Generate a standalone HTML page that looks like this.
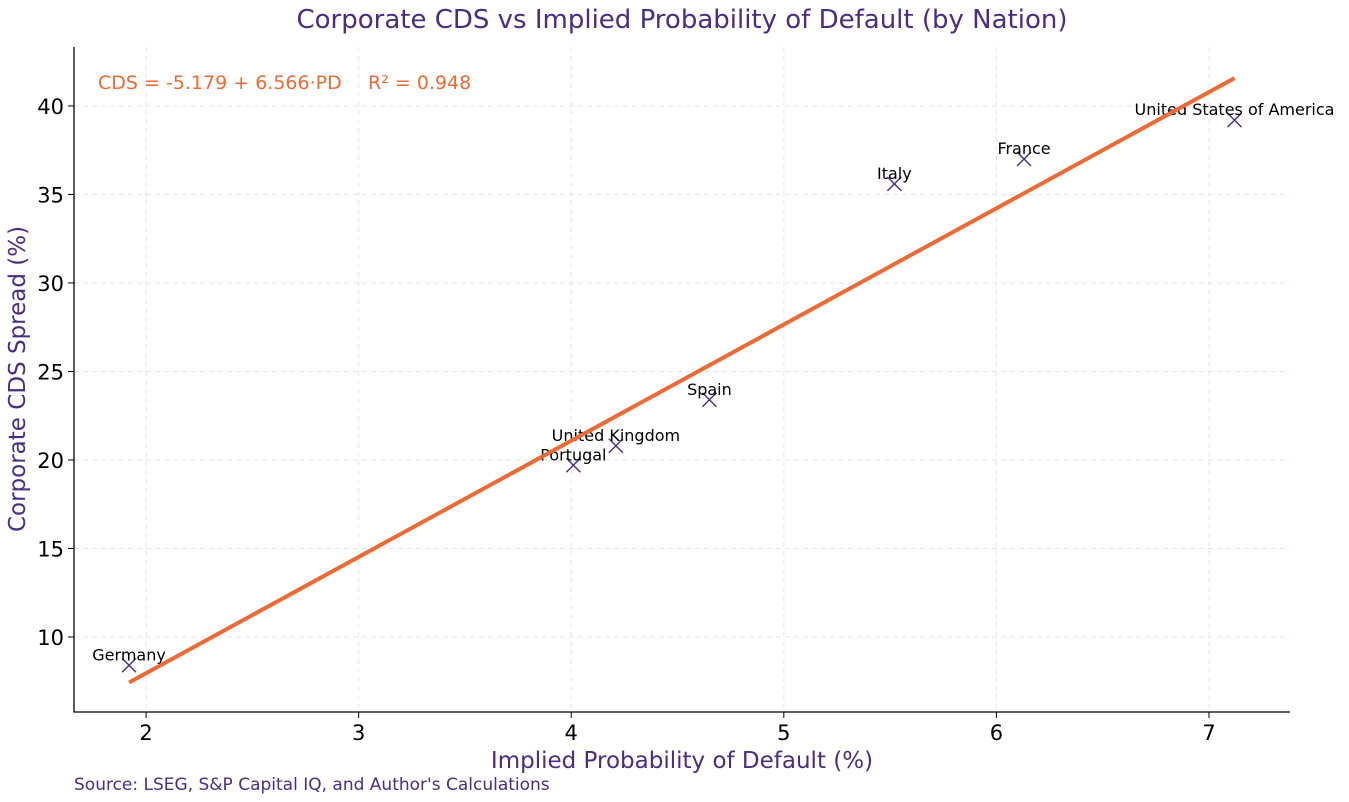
<!DOCTYPE html>
<html><head><meta charset="utf-8"><style>
body{margin:0;background:#fff;}
svg{display:block;font-family:"DejaVu Sans","Liberation Sans",sans-serif;}
</style></head><body>
<svg id="chart" width="1349" height="802" viewBox="0 0 1349 802">
<text x="682" y="28" text-anchor="middle" font-size="26" fill="#4b2c7f">Corporate CDS vs Implied Probability of Default (by Nation)</text>
<g id="grid"></g>
<g id="axes"></g>
<g id="marks"></g>
<text x="98" y="89" font-size="19" fill="#ee6a35">CDS = -5.179 + 6.566·PD</text>
<text x="368" y="89" font-size="19" fill="#ee6a35">R² = 0.948</text>
<text x="682" y="768" text-anchor="middle" font-size="23" fill="#4b2c7f">Implied Probability of Default (%)</text>
<text transform="translate(25,379) rotate(-90)" text-anchor="middle" font-size="23" fill="#4b2c7f">Corporate CDS Spread (%)</text>
<text x="74" y="790" font-size="17" fill="#4b2c7f">Source: LSEG, S&amp;P Capital IQ, and Author's Calculations</text>
</svg>
<script>
const countries=["Germany","Portugal","United Kingdom","Spain","Italy","France","United States of America"];
const pdValues=[1.92,4.01,4.21,4.65,5.52,6.13,7.12];
const cdsValues=[8.4,19.7,20.8,23.4,35.6,37.0,39.2];
const xTicks=[2,3,4,5,6,7];
const yTicks=[10,15,20,25,30,35,40];
const fitIntercept=-5.179, fitSlope=6.566;
const fitRange=[1.92,7.12];
const NS="http://www.w3.org/2000/svg";
const X0=74,X1=1290,Y0=712,Y1=47;
const xMin=1.661,xMax=7.381,yMin=5.76,yMax=43.33;
const sx=v=>X0+(v-xMin)/(xMax-xMin)*(X1-X0);
const sy=v=>Y0-(v-yMin)/(yMax-yMin)*(Y0-Y1);
function mk(tag,attrs,parent){const e=document.createElementNS(NS,tag);for(const k in attrs)e.setAttribute(k,attrs[k]);parent.appendChild(e);return e;}
const grid=document.getElementById('grid'),axes=document.getElementById('axes'),marks=document.getElementById('marks');
xTicks.forEach(t=>{
 const g=mk('line',{x1:sx(t),x2:sx(t),y1:Y1,y2:Y0,stroke:'#e6e6e6','stroke-dasharray':'5,4'},grid);
 
 
 const tk=mk('line',{x1:sx(t),x2:sx(t),y1:Y0,y2:Y0+6,stroke:'#000'},axes);
 
 
 const tl=mk('text',{x:sx(t),y:Y0+28,'text-anchor':'middle','font-size':'21',fill:'#000'},axes);
 tl.textContent=t;
 
 
});
yTicks.forEach(t=>{
 const g=mk('line',{x1:X0,x2:X1,y1:sy(t),y2:sy(t),stroke:'#e6e6e6','stroke-dasharray':'5,4'},grid);
 
 
 const tk=mk('line',{x1:X0-6,x2:X0,y1:sy(t),y2:sy(t),stroke:'#000'},axes);
 
 
 const tl=mk('text',{x:X0-10,y:sy(t)+8,'text-anchor':'end','font-size':'21',fill:'#000'},axes);
 tl.textContent=t;
 
 
});
const ax=mk('path',{d:`M${X0},${Y1}V${Y0}H${X1}`,fill:'none',stroke:'#000','stroke-width':1.3},axes);


countries.forEach((c,i)=>{
 const x=sx(pdValues[i]),y=sy(cdsValues[i]);
 const m=mk('path',{d:`M${x-7},${y-7}L${x+7},${y+7}M${x-7},${y+7}L${x+7},${y-7}`,stroke:'#4b2c7f','stroke-width':1.4},marks);
 
 
 const l=mk('text',{x:x,y:y-5,'text-anchor':'middle','font-size':'16',fill:'#000'},marks);
 l.textContent=c;
 
 
});
const fl=mk('line',{x1:sx(fitRange[0]),y1:sy(fitIntercept+fitSlope*fitRange[0]),x2:sx(fitRange[1]),y2:sy(fitIntercept+fitSlope*fitRange[1]),stroke:'#ee6a35','stroke-width':4},marks);


</script>
</body></html>
